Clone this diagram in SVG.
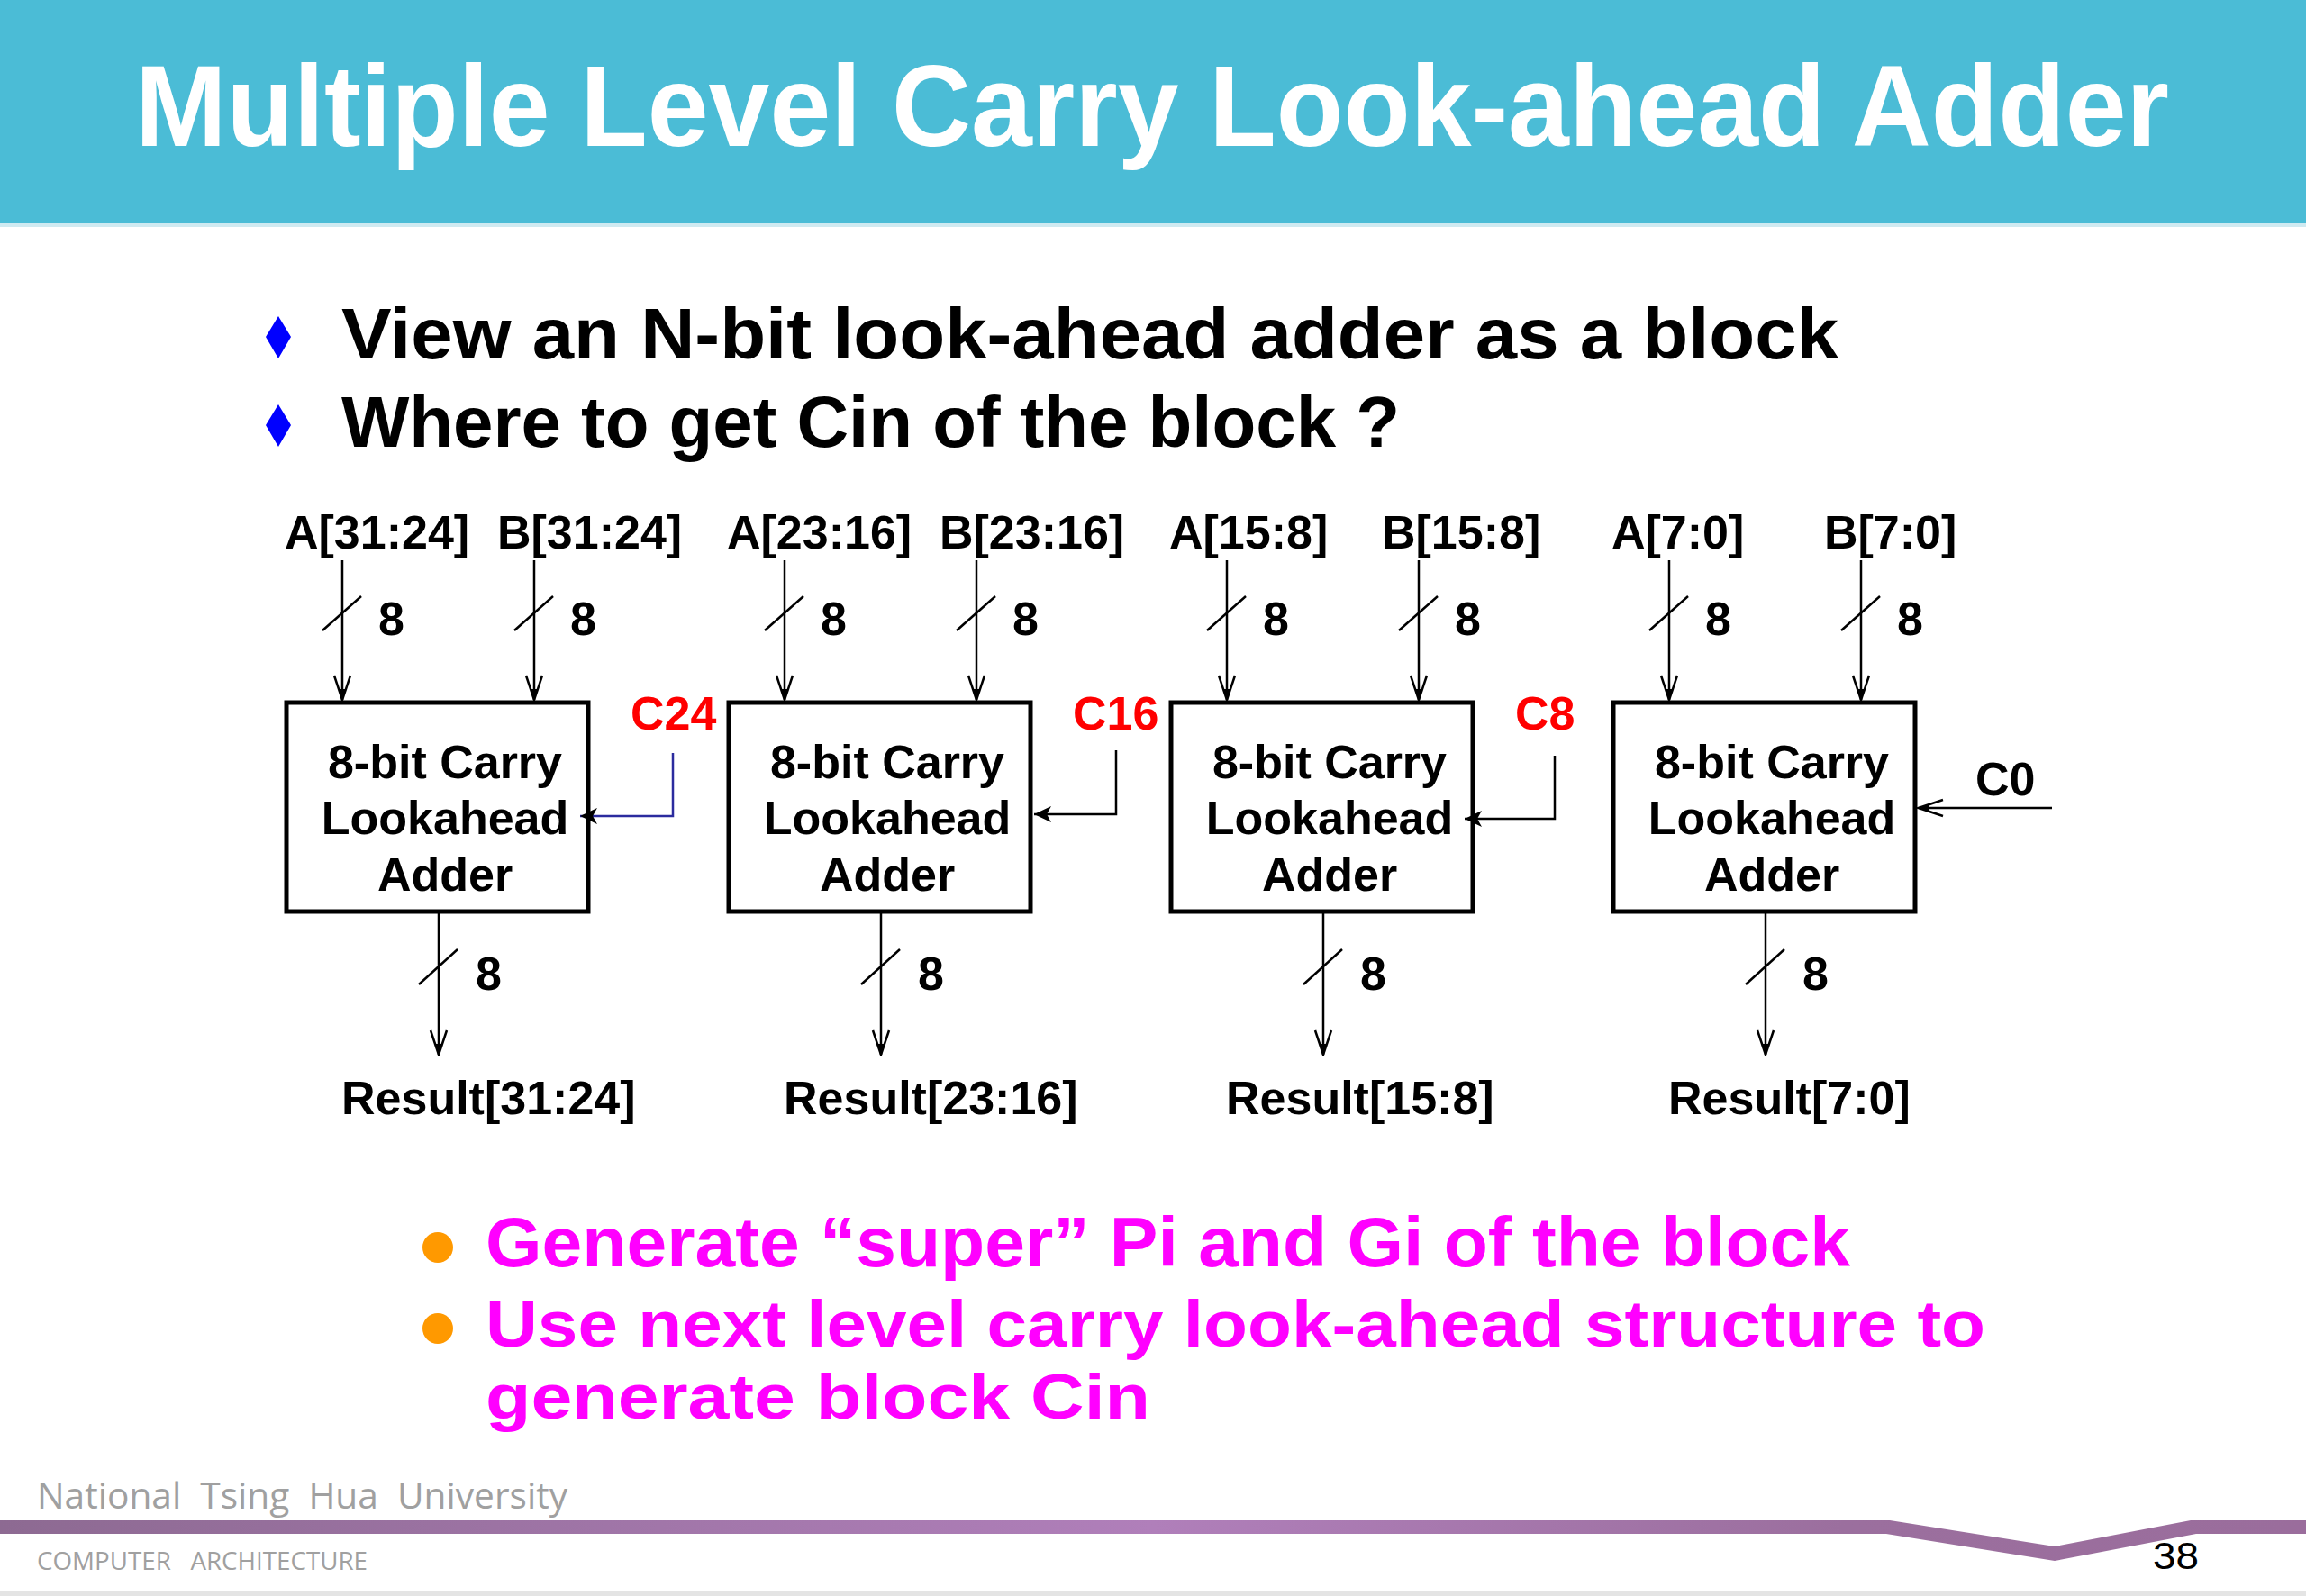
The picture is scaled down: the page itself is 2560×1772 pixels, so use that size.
<svg xmlns="http://www.w3.org/2000/svg" width="2560" height="1772" viewBox="0 0 2560 1772">
<defs>
<style>
.lbl{font-family:"Liberation Sans",Arial,sans-serif;font-weight:bold;font-size:52px;fill:#000}
.box{fill:#fff;stroke:#000;stroke-width:5}
.btxt{font-family:"Liberation Sans",Arial,sans-serif;font-weight:bold;font-size:52px;fill:#000;text-anchor:middle}
.wire{stroke:#000;stroke-width:2.5;fill:none}
.red{font-family:"Liberation Sans",Arial,sans-serif;font-weight:bold;font-size:52px;fill:#ff0000}
.bul{font-family:"Liberation Sans",Arial,sans-serif;font-weight:bold;font-size:80px;fill:#000}
.mag{font-family:"Liberation Sans",Arial,sans-serif;font-weight:bold;fill:#ff00ff}
.foot{font-family:"Open Sans","Liberation Sans",sans-serif;fill:#a0a0a0}
</style>
<marker id="open" markerUnits="userSpaceOnUse" viewBox="-32 -12 34 24" markerWidth="34" markerHeight="24" refX="0" refY="0" orient="auto">
<path d="M-27,-9 L0,0 L-27,9" fill="none" stroke="#000" stroke-width="2.5"/>
<path d="M0,0 L-12,-4 L-12,4 Z" fill="#000"/>
</marker>
<marker id="solid" markerUnits="userSpaceOnUse" viewBox="-24 -12 26 24" markerWidth="26" markerHeight="24" refX="0" refY="0" orient="auto">
<path d="M0,0 L-19,-9 L-14,0 L-19,9 Z" fill="#000"/>
</marker>
<linearGradient id="bar" x1="0" y1="0" x2="1" y2="0">
<stop offset="0" stop-color="#8d6a92"/>
<stop offset="0.5" stop-color="#b07fba"/>
<stop offset="0.8" stop-color="#9b6f9e"/>
<stop offset="1" stop-color="#9a6d9c"/>
</linearGradient>
</defs>
<rect width="2560" height="1772" fill="#fff"/>
<g id="header">
<rect x="0" y="0" width="2560" height="248" fill="#4bbcd6"/>
<rect x="0" y="248" width="2560" height="4" fill="#cfeaf1"/>
<text x="150" y="162" font-family="Liberation Sans, Arial, sans-serif" font-weight="bold" font-size="128" fill="#fff" textLength="2258" lengthAdjust="spacingAndGlyphs">Multiple Level Carry Look-ahead Adder</text>
</g>
<g id="bullets-top">
<path d="M309,351 L323,374 L309,398 L295,374 Z" fill="#0000ff"/>
<text class="bul" x="379" y="398" textLength="1662" lengthAdjust="spacingAndGlyphs">View an N-bit look-ahead adder as a block</text>
<path d="M309,449 L323,472 L309,496 L295,472 Z" fill="#0000ff"/>
<text class="bul" x="379" y="496" textLength="1175" lengthAdjust="spacingAndGlyphs">Where to get Cin of the block ?</text>
</g>
<g id="inputs-labels">
<text class="lbl" x="316" y="609">A[31:24]</text>
<text class="lbl" x="552" y="609">B[31:24]</text>
<text class="lbl" x="807" y="609">A[23:16]</text>
<text class="lbl" x="1043" y="609">B[23:16]</text>
<text class="lbl" x="1298" y="609">A[15:8]</text>
<text class="lbl" x="1534" y="609">B[15:8]</text>
<text class="lbl" x="1789" y="609">A[7:0]</text>
<text class="lbl" x="2025" y="609">B[7:0]</text>
</g>
<g id="adder3">
<rect class="box" x="318" y="780" width="335" height="232"/>
<text class="btxt" x="494" y="864">8-bit Carry</text>
<text class="btxt" x="494" y="926">Lookahead</text>
<text class="btxt" x="494" y="989">Adder</text>
</g>
<g id="adder2">
<rect class="box" x="809" y="780" width="335" height="232"/>
<text class="btxt" x="985" y="864">8-bit Carry</text>
<text class="btxt" x="985" y="926">Lookahead</text>
<text class="btxt" x="985" y="989">Adder</text>
</g>
<g id="adder1">
<rect class="box" x="1300" y="780" width="335" height="232"/>
<text class="btxt" x="1476" y="864">8-bit Carry</text>
<text class="btxt" x="1476" y="926">Lookahead</text>
<text class="btxt" x="1476" y="989">Adder</text>
</g>
<g id="adder0">
<rect class="box" x="1791" y="780" width="335" height="232"/>
<text class="btxt" x="1967" y="864">8-bit Carry</text>
<text class="btxt" x="1967" y="926">Lookahead</text>
<text class="btxt" x="1967" y="989">Adder</text>
</g>
<g id="connectors">
<line class="wire" x1="380" y1="622" x2="380" y2="777" marker-end="url(#open)"/>
<line class="wire" x1="593" y1="622" x2="593" y2="777" marker-end="url(#open)"/>
<line class="wire" x1="871" y1="622" x2="871" y2="777" marker-end="url(#open)"/>
<line class="wire" x1="1084" y1="622" x2="1084" y2="777" marker-end="url(#open)"/>
<line class="wire" x1="1362" y1="622" x2="1362" y2="777" marker-end="url(#open)"/>
<line class="wire" x1="1575" y1="622" x2="1575" y2="777" marker-end="url(#open)"/>
<line class="wire" x1="1853" y1="622" x2="1853" y2="777" marker-end="url(#open)"/>
<line class="wire" x1="2066" y1="622" x2="2066" y2="777" marker-end="url(#open)"/>
<line class="wire" x1="358" y1="700" x2="401" y2="662"/>
<line class="wire" x1="571" y1="700" x2="614" y2="662"/>
<line class="wire" x1="849" y1="700" x2="892" y2="662"/>
<line class="wire" x1="1062" y1="700" x2="1105" y2="662"/>
<line class="wire" x1="1340" y1="700" x2="1383" y2="662"/>
<line class="wire" x1="1553" y1="700" x2="1596" y2="662"/>
<line class="wire" x1="1831" y1="700" x2="1874" y2="662"/>
<line class="wire" x1="2044" y1="700" x2="2087" y2="662"/>
<line class="wire" x1="487" y1="1014" x2="487" y2="1171" marker-end="url(#open)"/>
<line class="wire" x1="978" y1="1014" x2="978" y2="1171" marker-end="url(#open)"/>
<line class="wire" x1="1469" y1="1014" x2="1469" y2="1171" marker-end="url(#open)"/>
<line class="wire" x1="1960" y1="1014" x2="1960" y2="1171" marker-end="url(#open)"/>
<line class="wire" x1="465" y1="1093" x2="508" y2="1054"/>
<line class="wire" x1="956" y1="1093" x2="999" y2="1054"/>
<line class="wire" x1="1447" y1="1093" x2="1490" y2="1054"/>
<line class="wire" x1="1938" y1="1093" x2="1981" y2="1054"/>
<polyline points="747,836 747,906 644,906" fill="none" stroke="#2b2b9e" stroke-width="2.5" marker-end="url(#solid)"/>
<polyline class="wire" points="1239,833 1239,904 1148,904" marker-end="url(#solid)"/>
<polyline class="wire" points="1726,839 1726,909 1626,909" marker-end="url(#solid)"/>
<line class="wire" x1="2278" y1="897" x2="2130" y2="897" marker-end="url(#open)"/>
</g>
<g id="bus-widths">
<text class="lbl" x="420" y="705">8</text>
<text class="lbl" x="633" y="705">8</text>
<text class="lbl" x="911" y="705">8</text>
<text class="lbl" x="1124" y="705">8</text>
<text class="lbl" x="1402" y="705">8</text>
<text class="lbl" x="1615" y="705">8</text>
<text class="lbl" x="1893" y="705">8</text>
<text class="lbl" x="2106" y="705">8</text>
<text class="lbl" x="528" y="1099">8</text>
<text class="lbl" x="1019" y="1099">8</text>
<text class="lbl" x="1510" y="1099">8</text>
<text class="lbl" x="2001" y="1099">8</text>
</g>
<g id="carry-labels">
<text class="red" x="700" y="810">C24</text>
<text class="red" x="1191" y="810">C16</text>
<text class="red" x="1682" y="810">C8</text>
<text class="lbl" x="2193" y="883">C0</text>
</g>
<g id="results">
<text class="lbl" x="379" y="1237">Result[31:24]</text>
<text class="lbl" x="870" y="1237">Result[23:16]</text>
<text class="lbl" x="1361" y="1237">Result[15:8]</text>
<text class="lbl" x="1852" y="1237">Result[7:0]</text>
</g>
<g id="bullets-bottom">
<circle cx="486" cy="1385" r="17" fill="#ff9900"/>
<text class="mag" x="539" y="1406" font-size="78" textLength="1515" lengthAdjust="spacingAndGlyphs">Generate “super” Pi and Gi of the block</text>
<circle cx="486" cy="1475" r="17" fill="#ff9900"/>
<text class="mag" x="539" y="1495" font-size="72" textLength="1665" lengthAdjust="spacingAndGlyphs">Use next level carry look-ahead structure to</text>
<text class="mag" x="539" y="1575" font-size="71" textLength="738" lengthAdjust="spacingAndGlyphs">generate block Cin</text>
</g>
<g id="footer">
<text class="foot" x="41" y="1675" font-size="40" textLength="589" lengthAdjust="spacingAndGlyphs" xml:space="preserve">National  Tsing  Hua  University</text>
<path d="M0,1688 L2098,1688 L2281,1717 L2432,1688 L2560,1688 L2560,1703 L2438,1703 L2281,1733 L2094,1703 L0,1703 Z" fill="url(#bar)"/>
<text class="foot" x="41" y="1743" font-size="27" textLength="367" lengthAdjust="spacingAndGlyphs" xml:space="preserve">COMPUTER   ARCHITECTURE</text>
<text x="2390" y="1742" font-family="Liberation Sans, Arial, sans-serif" font-size="42" fill="#000" textLength="51" lengthAdjust="spacingAndGlyphs">38</text>
<rect x="0" y="1767" width="2560" height="5" fill="#e4e4e4"/>
</g>
</svg>
